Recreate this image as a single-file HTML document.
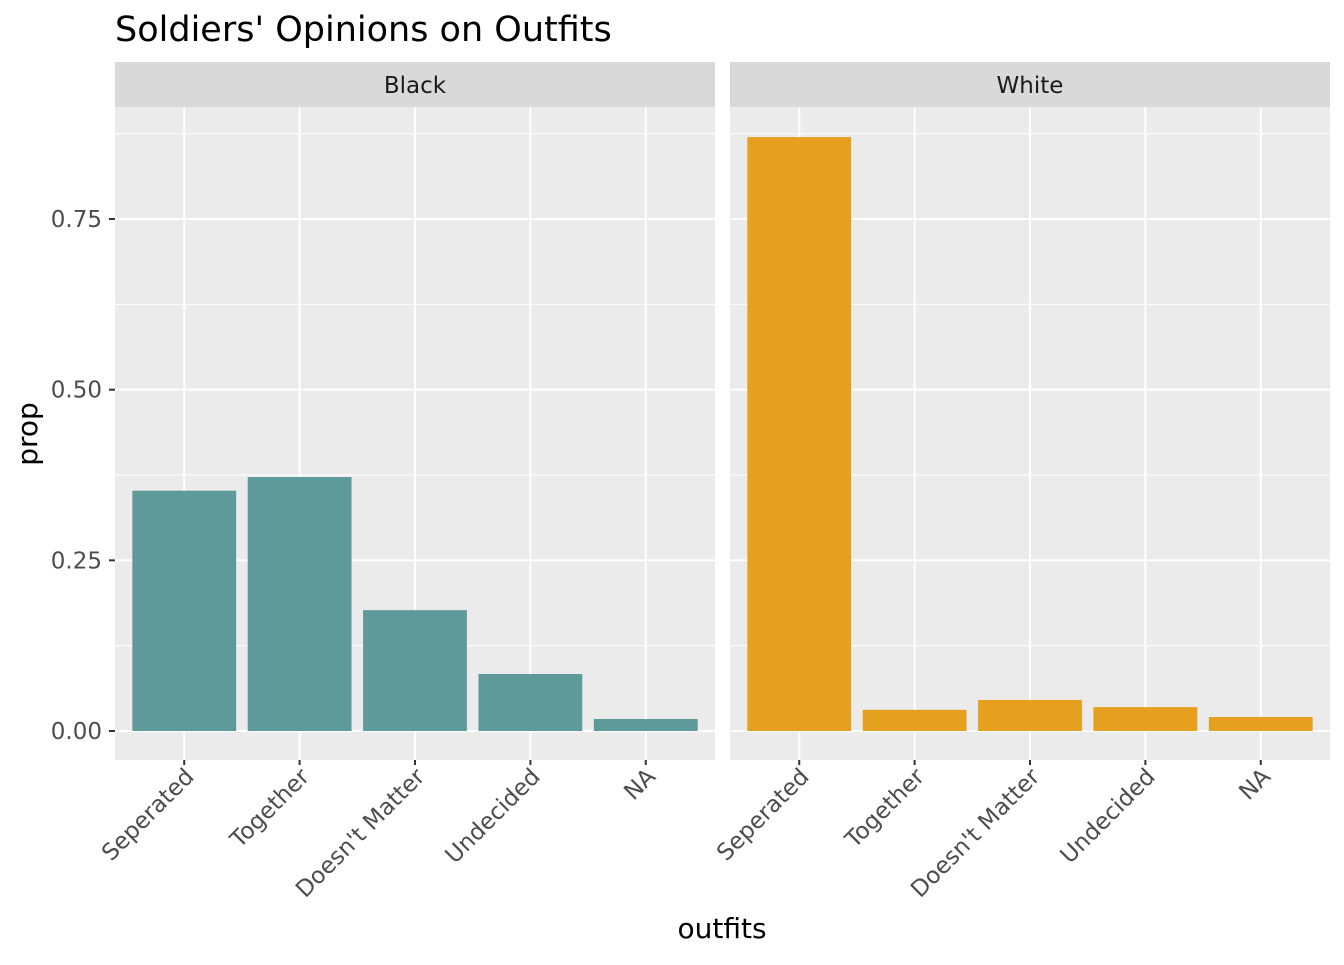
<!DOCTYPE html>
<html><head><meta charset="utf-8"><style>
body{margin:0;background:#fff}
svg text{font-family:"DejaVu Sans","Liberation Sans",sans-serif}
</style></head><body>
<svg id="chart" width="1344" height="960" xmlns="http://www.w3.org/2000/svg">
<text x="115" y="41" font-size="35" fill="#000">Soldiers' Opinions on Outfits</text>
<text x="722" y="938" font-size="28" text-anchor="middle" fill="#000">outfits</text>
<text transform="translate(37,434) rotate(-90)" font-size="28" text-anchor="middle" fill="#000">prop</text>
<g id="root"></g>
</svg>
<script>
const categories=["Seperated","Together","Doesn't Matter","Undecided","NA"];
const panels=["Black","White"];
const blackValues=[0.352,0.372,0.177,0.0835,0.0176];
const whiteValues=[0.870,0.031,0.0455,0.035,0.0205];
const yTicks=[0,0.25,0.5,0.75];
const yTickLabels=["0.00","0.25","0.50","0.75"];
const colors=["#5f9a9a","#e6a01f"];
(function(){
const NS="http://www.w3.org/2000/svg";
const root=document.getElementById('root');
function mk(t,a,p){const e=document.createElementNS(NS,t);for(const k in a)e.setAttribute(k,a[k]);(p||root).appendChild(e);return e;}
const pTop=107,pBot=760;
const y0=731,yPer=(731-219)/0.75;
const yS=v=>y0-v*yPer;
const panelX=[115,730],pw=600;
const series=[blackValues,whiteValues];
const xS=(p,i)=>panelX[p]+(i+1-0.4)*pw/5.2;
const bw=0.9*pw/5.2;
panels.forEach((name,p)=>{
  const g=mk('g',{});
  
  
  const strip=mk('rect',{x:panelX[p],y:62,width:pw,height:45,fill:'#d9d9d9'},g);
  
  
  const st=mk('text',{x:panelX[p]+pw/2,y:93,'font-size':'23','text-anchor':'middle',fill:'#1a1a1a'},g);
  st.textContent=name;
  
  
  const bg=mk('rect',{x:panelX[p],y:pTop,width:pw,height:pBot-pTop,fill:'#ebebeb'},g);
  
  
  const minors=yTicks.map(v=>v+0.125).concat([-0.125]);
  minors.forEach(m=>{const ym=yS(m);
    if(ym>pTop&&ym<pBot) mk('line',{x1:panelX[p],x2:panelX[p]+pw,y1:ym,y2:ym,stroke:'#fff','stroke-width':1},g);
  });
  yTicks.forEach(v=>{mk('line',{x1:panelX[p],x2:panelX[p]+pw,y1:yS(v),y2:yS(v),stroke:'#fff','stroke-width':2},g);});
  categories.forEach((c,i)=>{
    const x=xS(p,i);
    mk('line',{x1:x,x2:x,y1:pTop,y2:pBot,stroke:'#fff','stroke-width':2},g);
  });
  categories.forEach((c,i)=>{
    const v=series[p][i];const x=xS(p,i);
    const r=mk('rect',{x:x-bw/2,y:yS(v),width:bw,height:yS(0)-yS(v),fill:colors[p]},g);
    
    
    mk('line',{x1:x,x2:x,y1:pBot,y2:pBot+5,stroke:'#333','stroke-width':2},g);
    const t=mk('text',{'font-size':'23','text-anchor':'end',fill:'#4d4d4d',transform:`translate(${x+11},${pBot+18}) rotate(-45)`},g);
    t.textContent=c;
    
    
  });
});
yTicks.forEach((v,k)=>{
  mk('line',{x1:109,x2:115,y1:yS(v),y2:yS(v),stroke:'#333','stroke-width':2});
  const t=mk('text',{x:102,y:yS(v)+8,'font-size':'23','text-anchor':'end',fill:'#4d4d4d'});
  t.textContent=yTickLabels[k];
  
  
});
})();
</script>
</body></html>
